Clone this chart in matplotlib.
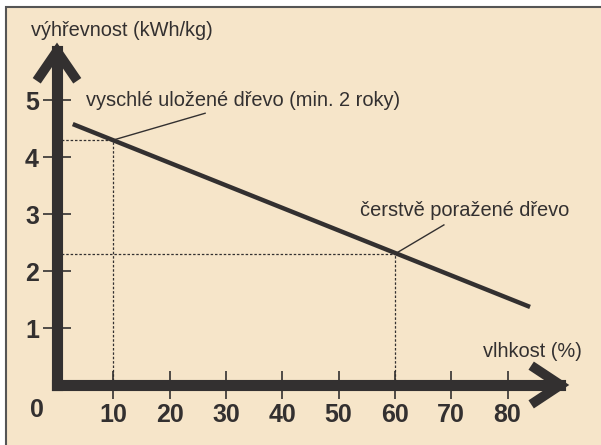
import matplotlib.pyplot as plt
from matplotlib.patches import Rectangle

# data
line_x = [2.8, 84]
line_y = [4.58, 1.37]
moisture = [10, 60]
heat = [4.3, 2.3]
labels = ['vyschlé uložené dřevo (min. 2 roky)', 'čerstvě poražené dřevo']
leader_end_x = [26.3, 68.7]
leader_end_y = [4.77, 2.81]
label_x = [5.2, 53.8]
label_y = [5.0, 3.07]
xticks = [10, 20, 30, 40, 50, 60, 70, 80]
yticks = [1, 2, 3, 4, 5]

dark = '#333030'
bg = '#F6E5C9'

plt.rcParams['font.family'] = ['Liberation Sans', 'DejaVu Sans']

fig = plt.figure(figsize=(6.01, 4.45), dpi=100)
fig.patch.set_facecolor('white')
# beige panel with border on left and top
fig.patches.append(Rectangle((6 / 601, -0.1), 1.2, (445 - 7) / 445 + 0.1,
                             transform=fig.transFigure, facecolor=bg,
                             edgecolor='#555555', lw=1.5, zorder=-5))

ax = fig.add_axes([57 / 601, 60 / 445, (592 - 57) / 601, (385 - 9) / 445])
ax.set_facecolor('none')
ax.set_xlim(0, 95)
ax.set_ylim(0, 6.6)

for s in ['top', 'right']:
    ax.spines[s].set_visible(False)
x_tip = 89.4
y_tip = 5.86
ax.spines['left'].set_bounds(0, y_tip)
ax.spines['bottom'].set_bounds(0, x_tip)
for s in ['left', 'bottom']:
    ax.spines[s].set_linewidth(8)
    ax.spines[s].set_color(dark)

# arrowheads
ax.plot([-3.6, 0, 3.6], [y_tip - 0.52, y_tip, y_tip - 0.52], color=dark, lw=7,
        solid_joinstyle='miter', solid_capstyle='butt', clip_on=False)
ax.plot([x_tip - 5.2, x_tip, x_tip - 5.2], [0.34, 0, -0.34], color=dark, lw=7,
        solid_joinstyle='miter', solid_capstyle='butt', clip_on=False)

ax.set_xticks(xticks)
ax.set_yticks(yticks)
ax.set_xticklabels([str(t) for t in xticks], fontweight='bold', fontsize=18, color=dark)
ax.set_yticklabels([str(t) for t in yticks], fontweight='bold', fontsize=18, color=dark)
ax.tick_params(axis='both', direction='inout', length=20, width=1.2, color=dark)
ax.tick_params(axis='x', pad=3)
ax.tick_params(axis='y', pad=3)
ax.text(-3.5, -0.44, '0', fontsize=18, fontweight='bold', color=dark,
        ha='center', va='center')

# main line
ax.plot(line_x, line_y, color=dark, lw=3.2, solid_capstyle='butt', zorder=3)

# dotted guides and leader lines
for mx, hy, ex, ey, lab, lx, ly in zip(moisture, heat, leader_end_x, leader_end_y,
                                       labels, label_x, label_y):
    ax.plot([0, mx], [hy, hy], color=dark, lw=0.9, ls=(0, (2, 1.5)), zorder=2)
    ax.plot([mx, mx], [0, hy], color=dark, lw=0.9, ls=(0, (2, 1.5)), zorder=2)
    ax.plot([mx, ex], [hy, ey], color=dark, lw=1.0, zorder=2)
    ax.text(lx, ly, lab, fontsize=14.4, color=dark, ha='left', va='center')

ax.text(-4.6, 6.23, 'výhřevnost (kWh/kg)', fontsize=14.4, color=dark,
        ha='left', va='center', clip_on=False)
ax.text(75.6, 0.58, 'vlhkost (%)', fontsize=14.4, color=dark, ha='left', va='center')

fig.savefig('out.png', dpi=100)
